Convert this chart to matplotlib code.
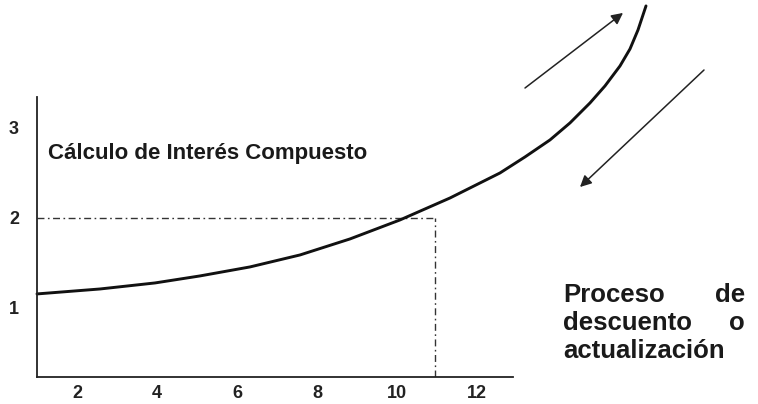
import matplotlib
matplotlib.use("Agg")
import matplotlib.pyplot as plt

plt.rcParams['font.family'] = ['Liberation Sans', 'DejaVu Sans']

# Curve (periods, accumulated value)
t_curve = [1.0, 2.575, 3.95, 5.075, 6.325, 7.575, 8.825, 10.075, 11.325, 12.575,
           13.2, 13.825, 14.325, 14.825, 15.2, 15.575, 15.825, 16.025, 16.175, 16.225]
v_curve = [1.156, 1.211, 1.278, 1.356, 1.456, 1.589, 1.767, 1.978, 2.222, 2.5,
           2.678, 2.867, 3.056, 3.278, 3.467, 3.689, 3.878, 4.089, 4.289, 4.356]

x_ticks = [2, 4, 6, 8, 10, 12]
y_ticks = [1, 2, 3]

# reference point (t, value)
ref_t = 10.95
ref_v = 2.0

# arrows: (start, end)
arrow_up = ((13.2, 3.444), (15.65, 4.278))
arrow_down = ((17.675, 3.644), (14.575, 2.344))

W, H = 758, 404
fig = plt.figure(figsize=(W / 100, H / 100), dpi=100)
ax = fig.add_axes([37 / W, 1 - 377 / H, 476 / W, 280 / H])
ax.set_xlim(1, 12.9)
ax.set_ylim(0.233, 3.344)

for s in ['top', 'right']:
    ax.spines[s].set_visible(False)
for s in ['left', 'bottom']:
    ax.spines[s].set_linewidth(1.3)
    ax.spines[s].set_color('#222222')

ax.set_xticks(x_ticks)
ax.set_xticklabels([str(v) for v in x_ticks], fontsize=13, fontweight='bold')
ax.set_yticks(y_ticks)
ax.set_yticklabels([str(v) for v in y_ticks], fontsize=13, fontweight='bold')
ax.tick_params(axis='x', length=0, pad=6, colors='#222222')
ax.tick_params(axis='y', length=0, pad=13, colors='#222222')

# dash-dot reference lines
ax.plot([1, ref_t], [ref_v, ref_v], color='#333333', lw=1.0,
        dashes=[5, 2.5, 1.2, 2.5])
ax.plot([ref_t, ref_t], [0.233, ref_v], color='#333333', lw=1.0,
        dashes=[5, 2.5, 1.2, 2.5])

# main curve (extends beyond axes)
ax.plot(t_curve, v_curve, color='#111111', lw=2.1, clip_on=False,
        solid_capstyle='round', solid_joinstyle='round')

for (x0, y0), (x1, y1) in [arrow_up, arrow_down]:
    ax.annotate('', xy=(x1, y1), xytext=(x0, y0), annotation_clip=False,
                arrowprops=dict(arrowstyle='-|>', color='#222222', lw=1.1,
                                mutation_scale=17, shrinkA=0, shrinkB=0))


def px(x, y):
    return x / W, 1 - y / H


fig.text(*px(48, 159), 'Cálculo de Interés Compuesto', fontsize=16,
         fontweight='bold', color='#1a1a1a', va='baseline', ha='left')

rows = [('Proceso', 'de', 302), ('descuento', 'o', 330), ('actualización', '', 358)]
for left, right, yb in rows:
    fig.text(*px(563, yb), left, fontsize=18.5, fontweight='bold',
             color='#1a1a1a', va='baseline', ha='left')
    if right:
        fig.text(*px(745, yb), right, fontsize=18.5, fontweight='bold',
                 color='#1a1a1a', va='baseline', ha='right')

fig.savefig('out.png', dpi=100)
